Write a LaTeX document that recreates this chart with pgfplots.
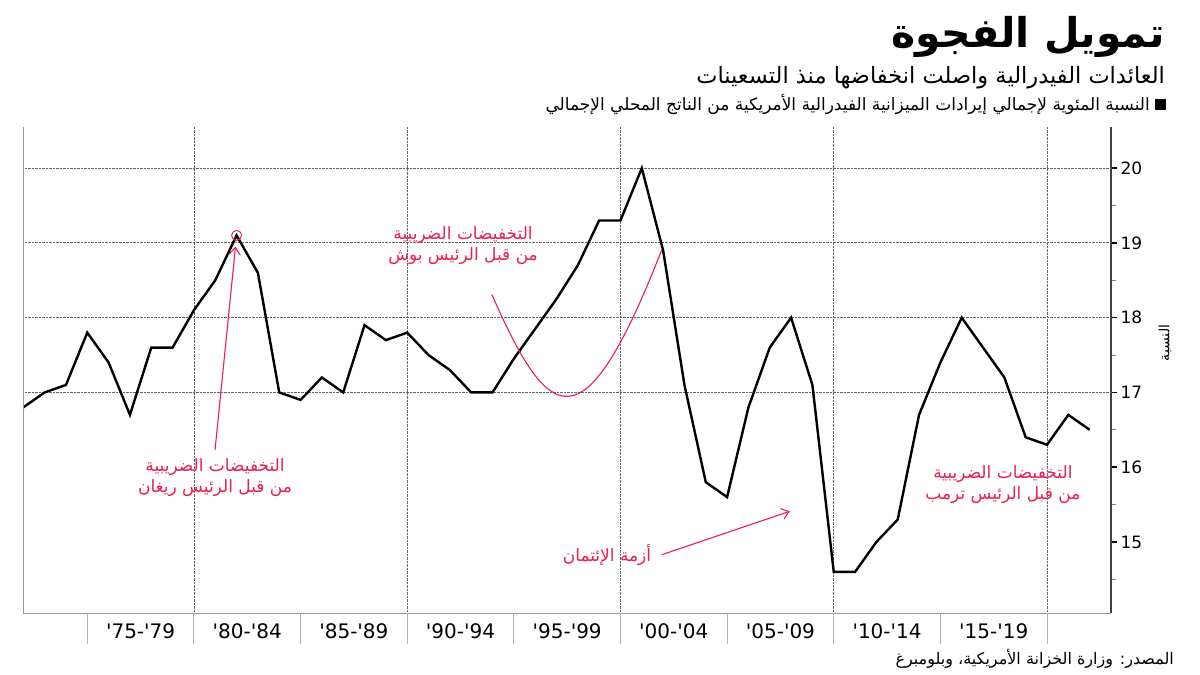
\documentclass[border=0pt]{standalone}
\usepackage{fontspec}
\setmainfont{DejaVu Sans}
\usepackage{pgfplots}
\pgfplotsset{compat=1.18}
\usetikzlibrary{arrows.meta}
\newfontfamily\arabicfont[Script=Arabic]{DejaVu Sans}
\TeXXeTstate=1
\definecolor{annred}{RGB}{232,32,80}
\pgfplotstableread{
i v
0 16.8
1 17.0
2 17.1
3 17.8
4 17.4
5 16.7
6 17.6
7 17.6
8 18.1
9 18.5
10 19.1
11 18.6
12 17.0
13 16.9
14 17.2
15 17.0
16 17.9
17 17.7
18 17.8
19 17.5
20 17.3
21 17.0
22 17.0
23 17.45
24 17.85
25 18.25
26 18.7
27 19.3
28 19.3
29 20.0
30 18.9
31 17.1
32 15.8
33 15.6
34 16.8
35 17.6
36 18.0
37 17.1
38 14.6
39 14.6
40 15.0
41 15.3
42 16.7
43 17.4
44 18.0
45 17.6
46 17.2
47 16.4
48 16.3
49 16.7
50 16.5
}\revenue
\begin{document}
\begin{tikzpicture}[x=1pt,y=1pt]
\useasboundingbox (0,0) rectangle (1200,675);
\begin{axis}[
  at={(23.3pt,62pt)}, anchor=south west,
  scale only axis, width=1087.7pt, height=486pt,
  xmin=0, xmax=51, ymin=14.05, ymax=20.55,
  axis x line*=bottom, axis y line*=right,
  x axis line style={gray!80, line width=1pt},
  y axis line style={black!75, line width=1.2pt},
  tick align=outside,
  major tick length=6pt, minor tick length=5pt,
  xtick={5.5,10.5,...,45.5},
  xticklabels={\textquotesingle75-\textquotesingle79,\textquotesingle80-\textquotesingle84,\textquotesingle85-\textquotesingle89,\textquotesingle90-\textquotesingle94,\textquotesingle95-\textquotesingle99,\textquotesingle00-\textquotesingle04,\textquotesingle05-\textquotesingle09,\textquotesingle10-\textquotesingle14,\textquotesingle15-\textquotesingle19},
  xtick style={draw=none},
  minor xtick={8,18,28,38,48},
  xminorgrids=true,
  minor grid style={densely dotted, black!60, line width=0.8pt},
  major grid style={densely dotted, black!60, line width=0.8pt},
  xticklabel style={font=\fontsize{20}{20}\selectfont, anchor=center, yshift=-12pt},
  ytick={15,...,20},
  minor ytick={14.5,15.5,...,19.5},
  ytick style={black, line width=1.6pt},
  minor y tick style={gray, line width=0.8pt},
  yticklabel style={font=\fontsize{17}{17}\selectfont},
  /pgf/number format/assume math mode=true,
  extra y ticks={17,18,19,20},
  extra y tick labels={},
  extra y tick style={grid=major, tick style={draw=none}},
  clip=false,
]
\pgfplotsinvokeforeach{3,8,13,18,23,28,33,38,43,48}{
  \draw[gray!60, line width=1pt] (axis cs:#1,14.05) -- ++(0pt,-31pt);
}
\addplot[black, line width=2.4pt, line join=miter] table[x=i, y=v] {\revenue};
\addplot[only marks, mark=o, mark size=5pt, annred, mark options={line width=0.9pt}] coordinates {(10,19.1)};
% Reagan
\draw[annred, line width=1.1pt, -{Straight Barb[length=7pt,width=11pt]}] (axis cs:8.99,16.23) -- (axis cs:9.95,18.95);
\node[annred, align=center, font=\fontsize{17}{21}\selectfont\arabicfont] at (axis cs:8.99,15.86) {\beginR التخفيضات الضريبية\endR\\ \beginR من قبل الرئيس ريغان\endR};
% Bush
\node[annred, align=center, font=\fontsize{17}{21}\selectfont\arabicfont] at (axis cs:20.62,18.96) {\beginR التخفيضات الضريبية\endR\\ \beginR من قبل الرئيس بوش\endR};
\draw[annred, line width=1.1pt] (axis cs:21.97,18.31) .. controls (axis cs:24.68,16.55) and (axis cs:26.28,16.24) .. (axis cs:29.94,18.91);
% Credit
\node[annred, font=\fontsize{17}{21}\selectfont\arabicfont] at (axis cs:27.37,14.83) {\beginR أزمة الإئتمان\endR};
\draw[annred, line width=1.1pt, -{Straight Barb[length=7pt,width=11pt]}] (axis cs:29.94,14.83) -- (axis cs:35.94,15.41);
% Trump
\node[annred, align=center, font=\fontsize{17}{21}\selectfont\arabicfont] at (axis cs:45.93,15.77) {\beginR التخفيضات الضريبية\endR\\ \beginR من قبل الرئيس ترمب\endR};
\end{axis}
% left axis line
\draw[gray!80, line width=1pt] (23.3,62) -- (23.3,548);
% titles
\node[anchor=east, inner sep=0pt, font=\fontsize{41}{41}\selectfont\arabicfont\bfseries] at (1165,638) {\beginR تمويل الفجوة\endR};
\node[anchor=east, inner sep=0pt, font=\fontsize{22.5}{22.5}\selectfont\arabicfont] at (1165,597) {\beginR العائدات الفيدرالية واصلت انخفاضها منذ التسعينات\endR};
\fill[black] (1155,565) rectangle (1166,576);
\node[anchor=east, inner sep=0pt, font=\fontsize{17}{17}\selectfont\arabicfont] at (1150,571) {\beginR النسبة المئوية لإجمالي إيرادات الميزانية الفيدرالية الأمريكية من الناتج المحلي الإجمالي\endR};
\node[rotate=90, font=\fontsize{14}{14}\selectfont\arabicfont] at (1165,332) {\beginR النسبة\endR};
\node[anchor=east, inner sep=0pt, font=\fontsize{16}{16}\selectfont\arabicfont] at (1174,16) {\beginR المصدر: وزارة الخزانة الأمريكية، وبلومبرغ\endR};
\end{tikzpicture}
\end{document}
